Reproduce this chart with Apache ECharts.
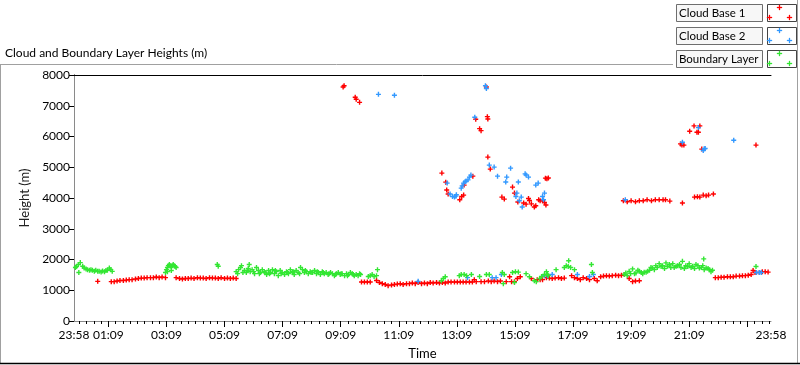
<!DOCTYPE html>
<html>
<head>
<meta charset="utf-8">
<script src="https://cdn.jsdelivr.net/npm/echarts@6/dist/echarts.min.js"></script>
<style>
html,body{margin:0;padding:0;background:#fff;}
#chart{width:800px;height:365px;}
</style>
</head>
<body>
<div id="chart"></div>
<script>
// x values: minutes elapsed since 23:58 (start of axis); y values: height in metres
const seriesNames = ['Cloud Base 1', 'Cloud Base 2', 'Boundary Layer'];
const seriesColors = ['#ff0000', '#3399ff', '#33e633'];

const xTickMinutes = [0, 71, 191, 311, 431, 551, 671, 791, 911, 1031, 1151, 1271, 1440];
const xTickLabels = ['23:58', '01:09', '03:09', '05:09', '07:09', '09:09', '11:09', '13:09', '15:09', '17:09', '19:09', '21:09', '23:58'];
const xMajorTicks = [71, 191, 311, 431, 551, 671, 791, 911, 1031, 1151, 1271, 1391];
const yTicks = [0, 1000, 2000, 3000, 4000, 5000, 6000, 7000, 8000];

const cloudBase1 = [
  [556,7610],[558,7650],[581,7275],[583,7210],[590,7110],
  [830,6560],[838,6255],[841,6190],[852,7610],[854,6645],[855,6570],[855,5330],[860,4940],
  [760,4810],[768,4515],[770,4260],[773,4130],[797,3945],[801,4050],[805,4095],[806,4420],[824,4710],
  [884,4030],[889,3965],[906,4355],[910,4160],[917,3870],[929,3835],[934,3800],[939,3985],[941,3920],[945,3810],
  [951,3705],[954,3750],[960,3945],[963,3910],[968,3910],[972,3855],[975,3770],[974,4645],[977,4625],[980,4650],
  [1135,3910],[1143,3880],[1151,3910],[1160,3880],[1168,3910],[1176,3910],[1184,3945],[1193,3910],[1201,3945],
  [1209,3945],[1217,3945],[1222,3945],[1231,3900],[1257,3835],[1282,4030],[1288,4040],[1293,4030],[1300,4095],
  [1306,4070],[1311,4095],[1321,4130],
  [1281,6345],[1293,6345],[1272,6170],[1287,6140],[1290,6140],[1253,5760],[1256,5720],[1260,5720],[1297,5590],[1409,5720],
  [49,1290],
  [77,1280],[83,1280],[89,1300],[95,1315],[102,1315],[108,1330],[114,1345],[120,1345],[127,1365],
  [133,1380],[139,1395],[145,1395],[151,1410],[158,1410],[164,1410],[170,1430],[176,1410],[182,1430],[189,1410],
  [211,1410],[218,1380],[224,1365],[230,1380],[236,1380],[242,1395],[248,1380],[255,1410],[261,1395],[267,1395],
  [273,1380],[280,1410],[286,1395],[292,1395],[298,1380],[304,1410],[311,1380],[317,1395],[323,1380],[329,1395],[335,1380],
  [594,1270],[600,1270],[606,1270],[612,1270],
  [625,1315],[631,1250],[637,1215],[643,1185],[649,1150],[656,1170],[662,1185],[668,1200],[674,1215],[680,1185],
  [687,1215],[693,1215],[699,1235],[705,1215],[711,1250],[718,1215],[724,1235],[730,1215],[736,1250],[742,1235],
  [749,1250],[755,1235],[761,1250],[767,1235],
  [773,1270],[779,1270],[786,1270],[792,1270],[798,1270],[804,1270],[810,1270],[817,1270],[823,1270],
  [827,1345],[831,1280],[841,1280],[848,1280],[856,1300],[862,1280],[868,1300],[875,1280],[881,1300],
  [893,1280],[900,1440],[904,1280],[910,1280],[916,1380],[922,1440],[945,1380],[957,1345],[963,1345],[968,1345],
  [976,1410],[982,1395],[988,1380],[994,1395],[1001,1410],[1007,1380],[1013,1395],
  [1028,1475],[1034,1410],[1040,1380],[1046,1345],[1052,1410],[1059,1380],[1065,1345],[1075,1380],[1081,1310],
  [1088,1440],[1094,1460],[1100,1475],[1106,1460],[1112,1475],[1119,1490],[1125,1475],[1131,1490],[1137,1510],
  [1147,1380],[1154,1280],[1160,1300],[1168,1310],
  [1325,1410],[1331,1410],[1337,1425],[1343,1425],[1350,1440],[1356,1440],[1362,1440],[1368,1460],[1375,1460],
  [1381,1475],[1387,1475],[1393,1490],[1399,1510],[1403,1640],[1407,1575],[1416,1575],[1422,1605],[1428,1605],[1434,1590]
];

const cloudBase2 = [
  [629,7370],[662,7340],[850,7650],[852,7560],[828,6625],
  [858,5070],[868,5005],[875,4710],[902,4970],[894,4680],[892,4520],[918,4520],[932,4785],[934,4750],[939,4680],
  [954,4420],[959,4485],[972,4160],[968,4050],[915,4160],[913,4050],[924,4030],[920,3910],[926,3705],[970,3945],
  [771,4485],[777,4130],[782,4050],[786,4030],[789,4060],[790,4105],[800,4320],[802,4395],[805,4485],[808,4525],
  [810,4550],[814,4590],[817,4680],[820,4745],
  [1139,3945],[1257,5815],[1290,6290],[1300,5545],[1304,5610],[1302,5600],[1363,5880],
  [711,1290],[813,1410],[864,1410],[872,1410],[883,1510],[972,1475],[978,1475],[988,1510],[1040,1510],
  [1065,1445],[1073,1510],[1410,1575],[1416,1575],[1420,1575]
];

const boundaryLayer = [
  [3,1740],[5,1770],[9,1835],[13,1900],[10,1575],[18,1780],[21,1725],[25,1695],[28,1670],[32,1650],[35,1670],
  [38,1650],[42,1615],[45,1650],[49,1615],[52,1615],[56,1595],[59,1630],[63,1605],[66,1640],[69,1650],[73,1725],
  [76,1670],[79,1615],
  [189,1575],[191,1670],[193,1740],[195,1800],[197,1835],[199,1800],[201,1770],[203,1800],[205,1835],[207,1800],
  [209,1770],[211,1740],[193,1605],[201,1640],
  [296,1835],[298,1780],
  [335,1605],[340,1670],[344,1740],[346,1800],[352,1640],[356,1575],[360,1705],[362,1835],[364,1605],[368,1670],
  [373,1540],[377,1740],[381,1640],[385,1575],[389,1670],[393,1605],[398,1510],[402,1640],[406,1575],[410,1670],
  [414,1540],[418,1605],[422,1475],[426,1640],[430,1575],[435,1510],[439,1605],[443,1540],[447,1670],[451,1575],
  [455,1510],[459,1640],[463,1575],[468,1740],[472,1670],[476,1575],[480,1605],[484,1540],[488,1605],[493,1575],
  [497,1640],[501,1540],[505,1575],[509,1510],[513,1605],[517,1540],[521,1575],[525,1510],[530,1575],[534,1540],
  [538,1475],[542,1540],[546,1575],[550,1510],[554,1540],[559,1475],[563,1540],[567,1510],[571,1575],[575,1540],
  [579,1475],[583,1510],[587,1475],[592,1510],
  [338,1540],[349,1575],[358,1640],[371,1605],[383,1540],[395,1575],[404,1540],[416,1640],[428,1540],[441,1575],
  [453,1605],[466,1540],[478,1640],[490,1575],[503,1605],[515,1575],[527,1540],[540,1510],[552,1540],[565,1475],
  [577,1510],[590,1540],
  [608,1445],[612,1475],[616,1510],[620,1445],[625,1475],[627,1670],
  [759,1310],[763,1380],[767,1440],[796,1475],[800,1510],[806,1510],[811,1475],
  [821,1510],[838,1445],[852,1510],[858,1510],[885,1575],[889,1510],[887,1215],
  [906,1575],[912,1605],[918,1590],[910,1250],[934,1540],[941,1440],[951,1310],[955,1280],
  [962,1380],[976,1605],[978,1510],[966,1445],[972,1510],[980,1475],
  [996,1670],[1013,1740],[1017,1800],[1021,1770],[1026,1740],[1022,1960],[1034,1670],[1069,1835],[1071,1575],
  [1137,1510],[1140,1565],[1143,1475],[1147,1615],[1154,1695],[1158,1540],[1161,1565],[1168,1615],[1175,1540],
  [1178,1585],[1182,1585],[1189,1650],[1195,1725],[1199,1670],[1202,1800],[1209,1865],[1216,1800],[1220,1705],
  [1223,1890],[1230,1835],[1237,1865],[1240,1740],[1244,1780],[1251,1835],[1257,1940],[1261,1705],[1264,1800],
  [1271,1865],[1278,1780],[1282,1705],[1285,1835],[1292,1725],[1299,1800],[1301,2020],[1302,1670],[1306,1725],
  [1313,1670],[1319,1650],
  [1150,1540],[1165,1650],[1172,1575],[1185,1615],[1192,1740],[1205,1740],[1213,1770],[1226,1780],[1233,1740],
  [1247,1800],[1254,1740],[1268,1770],[1275,1740],[1289,1800],[1296,1740],[1310,1705],[1316,1605],
  [1409,1770]
];

// minor ticks every 15 minutes, aligned to the hh:09 major ticks
const xMinorTicks = [];
for (let m = 11; m <= 1440; m += 15) { if (xMajorTicks.indexOf(m) < 0) xMinorTicks.push(m); }

const FONT = 'Lato';
const plusPath = 'path://M1.8,0H3.2V1.8H5V3.2H3.2V5H1.8V3.2H0V1.8H1.8Z';

const chart = echarts.init(document.getElementById('chart'), null, {renderer: 'canvas'});

function plusPoints(cx, cy) {
  // 5x5 plus sign, 1px thick, centred on pixel (cx, cy)
  return [[cx, cy - 2], [cx + 1, cy - 2], [cx + 1, cy], [cx + 3, cy], [cx + 3, cy + 1], [cx + 1, cy + 1],
          [cx + 1, cy + 3], [cx, cy + 3], [cx, cy + 1], [cx - 2, cy + 1], [cx - 2, cy], [cx, cy]];
}

const legendGraphics = [];
seriesNames.forEach((name, i) => {
  const top = 4 + i * 23;
  legendGraphics.push({
    type: 'rect', shape: {x: 676.5, y: top + 0.5, width: 86, height: 17},
    style: {fill: '#f7f7f7', stroke: '#6e6e6e', lineWidth: 1}, silent: true, z: 10
  });
  legendGraphics.push({
    type: 'text', x: 679, y: top + 9.5, z: 11,
    style: {text: name, fill: '#000', font: '11.5px "' + FONT + '"', verticalAlign: 'middle', textAlign: 'left'}, silent: true
  });
  legendGraphics.push({
    type: 'rect', shape: {x: 767.5, y: top + 0.5, width: 29, height: 17},
    style: {fill: '#ffffff', stroke: '#444', lineWidth: 1}, silent: true, z: 10
  });
  [[12, 3], [2, 13], [22, 13]].forEach(p => {
    legendGraphics.push({
      type: 'polygon', shape: {points: plusPoints(767 + p[0], top + p[1])},
      style: {fill: seriesColors[i], stroke: seriesColors[i], lineWidth: 0.3}, silent: true, z: 12
    });
  });
});

const frameGraphics = [
  {type: 'line', shape: {x1: 0, y1: 64.5, x2: 673, y2: 64.5}, style: {stroke: '#a0a0a0', lineWidth: 1}, silent: true},
  {type: 'line', shape: {x1: 0.5, y1: 64.5, x2: 0.5, y2: 363}, style: {stroke: '#a0a0a0', lineWidth: 1}, silent: true},
  {type: 'line', shape: {x1: 797.5, y1: 0, x2: 797.5, y2: 363}, style: {stroke: '#a0a0a0', lineWidth: 1}, silent: true},
  {type: 'line', shape: {x1: 0, y1: 363.5, x2: 800, y2: 363.5}, style: {stroke: '#000', lineWidth: 1.5}, silent: true}
];

function fmtLabel(v) {
  const idx = xTickMinutes.indexOf(v);
  return idx >= 0 ? xTickLabels[idx] : '';
}

const scatterBase = (name, data, color) => ({
  name, type: 'scatter', data, xAxisIndex: 0, yAxisIndex: 0,
  symbol: plusPath, symbolSize: 5,
  itemStyle: {color, opacity: 1},
  emphasis: {disabled: true}, animation: false
});

chart.setOption({
  animation: false,
  textStyle: {fontFamily: FONT},
  title: {
    text: 'Cloud and Boundary Layer Heights (m)', left: 5, top: 47, padding: 0,
    textStyle: {fontSize: 12, fontWeight: 'normal', color: '#000', fontFamily: FONT}
  },
  grid: {left: 74, right: 29, top: 75, bottom: 43, containLabel: false},
  xAxis: [
    {
      type: 'value', min: 0, max: 1440, position: 'bottom',
      name: 'Time', nameLocation: 'middle', nameGap: 26,
      nameTextStyle: {fontSize: 13, color: '#000', fontFamily: FONT},
      axisLine: {show: true, lineStyle: {color: '#8a8a8a', width: 1}},
      axisTick: {show: true, customValues: xMajorTicks, length: 6, inside: false, lineStyle: {color: '#000'}},
      axisLabel: {show: true, customValues: xTickMinutes, formatter: fmtLabel, fontSize: 12, color: '#000', margin: 8, fontFamily: FONT, hideOverlap: false},
      splitLine: {show: false}
    },
    {
      type: 'value', min: 0, max: 1440, position: 'bottom',
      axisLine: {show: false},
      axisTick: {show: true, customValues: xMinorTicks, length: 3, lineStyle: {color: '#000'}},
      axisLabel: {show: false},
      splitLine: {show: false}
    },
    {
      type: 'value', min: 0, max: 1440, position: 'top',
      axisLine: {show: true, lineStyle: {color: '#000', width: 1}},
      axisTick: {show: false}, axisLabel: {show: false}, splitLine: {show: false}
    }
  ],
  yAxis: [
    {
      type: 'value', min: 0, max: 8000, interval: 1000, position: 'left',
      name: 'Height (m)', nameLocation: 'middle', nameGap: 35, nameRotate: 90,
      nameTextStyle: {fontSize: 13, color: '#222', fontFamily: FONT},
      axisLine: {show: true, lineStyle: {color: '#000', width: 1}},
      axisTick: {show: true, length: 5, lineStyle: {color: '#000'}},
      axisLabel: {fontSize: 12, color: '#000', margin: 4, fontFamily: FONT,
        customValues: yTicks, formatter: v => String(v)},
      splitLine: {show: false}
    },
    {
      type: 'value', min: 0, max: 8000, position: 'right',
      axisLine: {show: true, lineStyle: {color: '#8a8a8a', width: 1}},
      axisTick: {show: false}, axisLabel: {show: false}, splitLine: {show: false}
    }
  ],
  series: [
    scatterBase(seriesNames[0], cloudBase1, seriesColors[0]),
    scatterBase(seriesNames[1], cloudBase2, seriesColors[1]),
    scatterBase(seriesNames[2], boundaryLayer, seriesColors[2])
  ],
  graphic: {elements: frameGraphics.concat(legendGraphics)}
});
</script>
</body>
</html>
